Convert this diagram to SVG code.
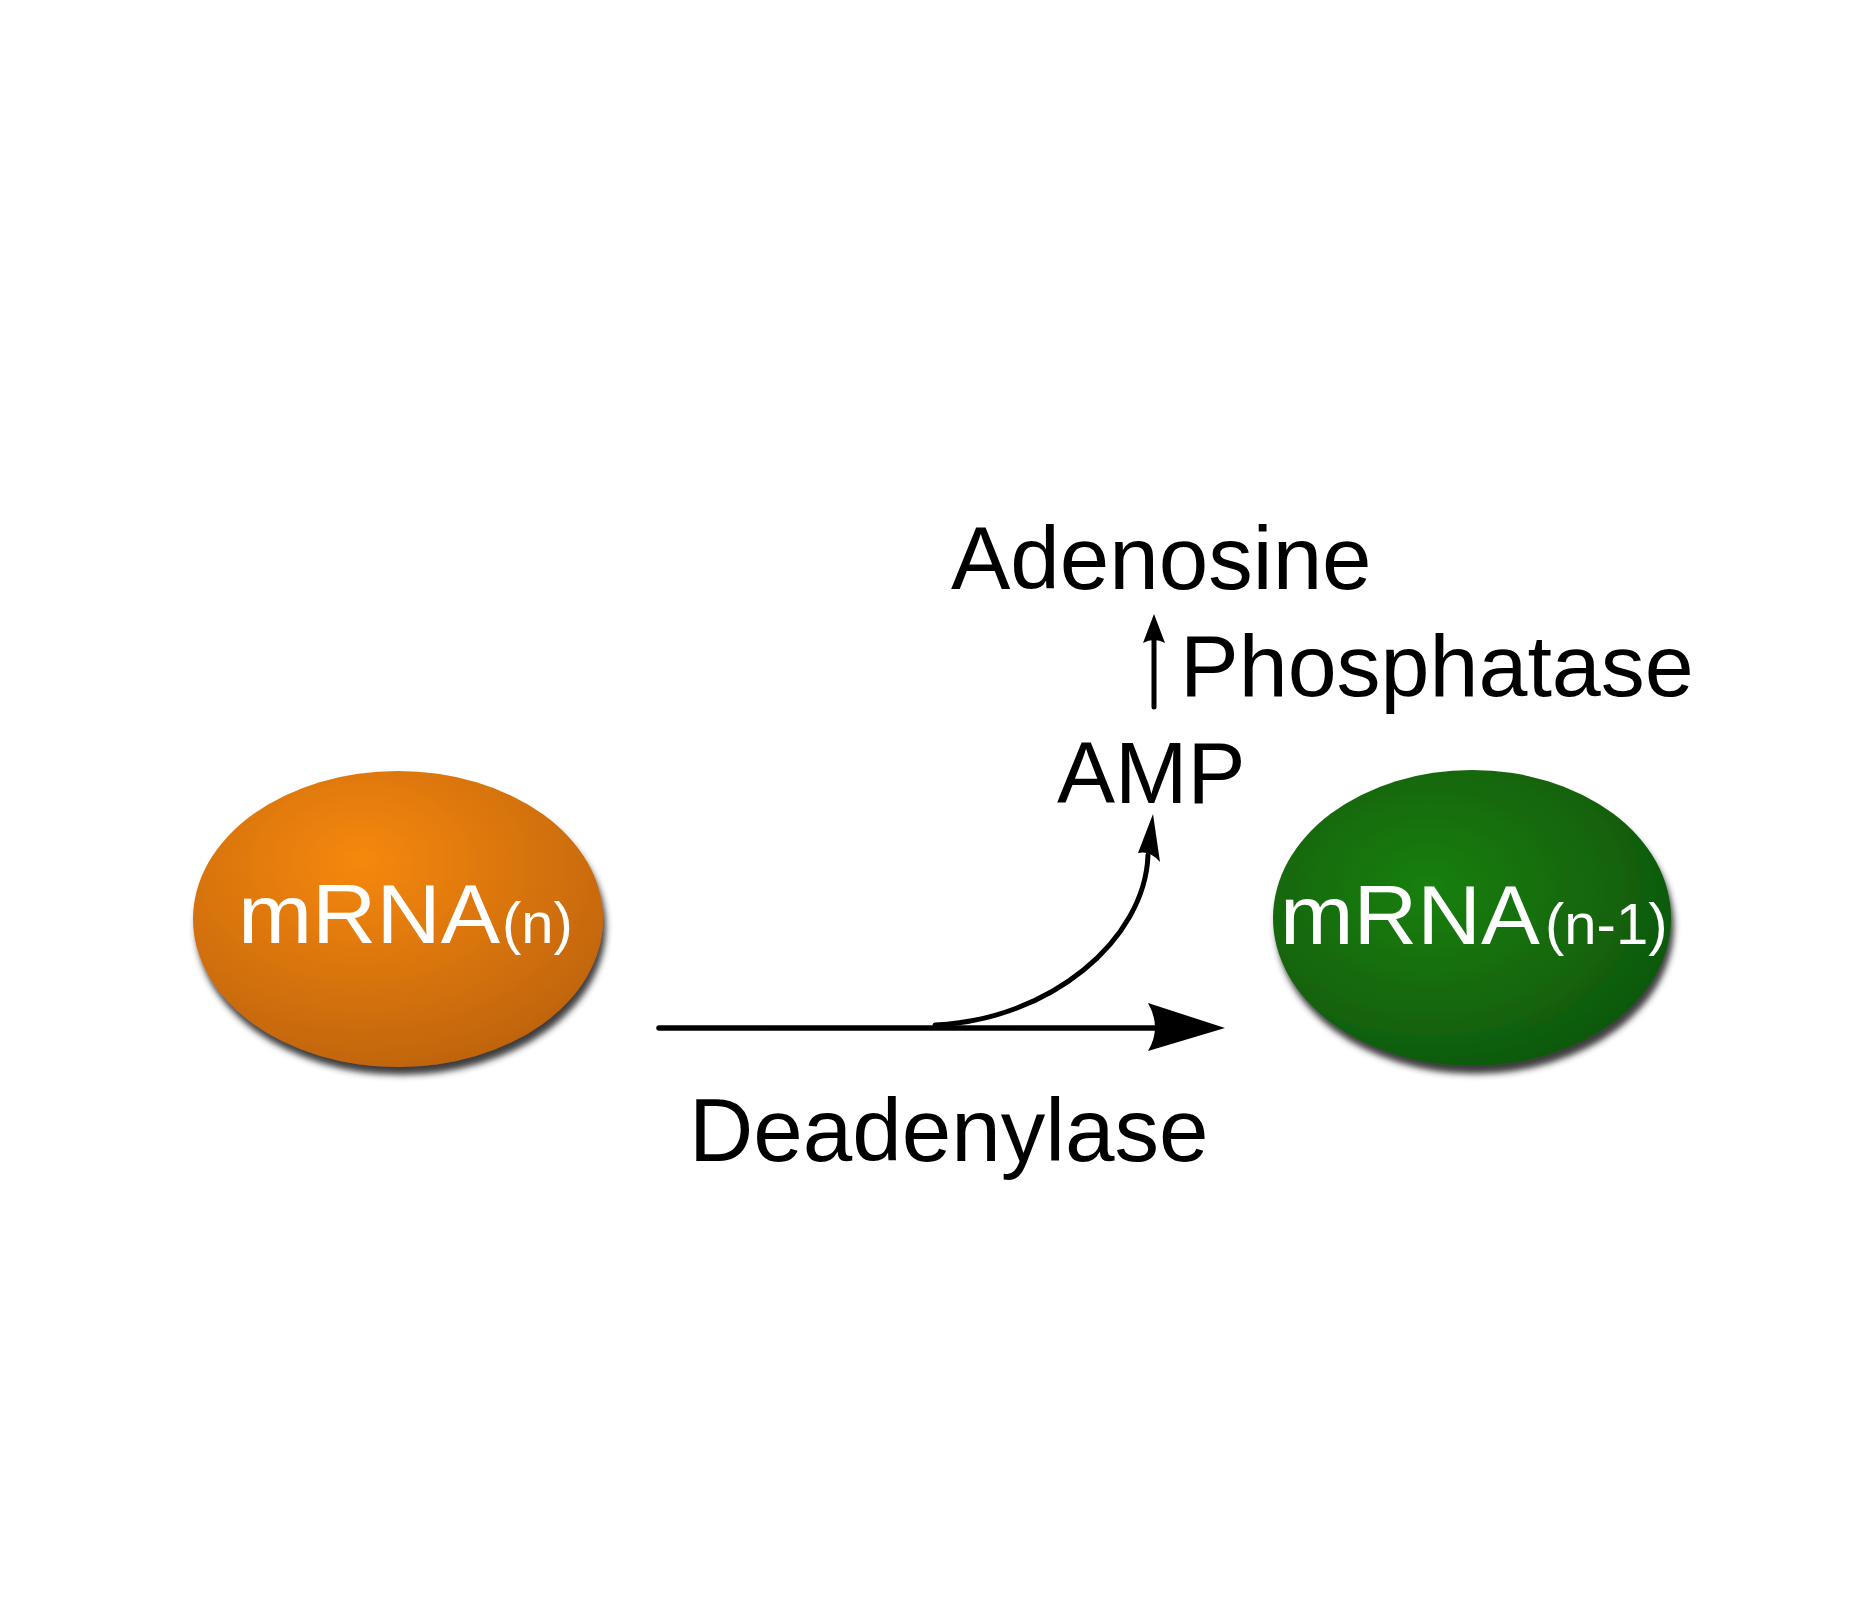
<svg xmlns="http://www.w3.org/2000/svg" width="1872" height="1620" viewBox="0 0 1872 1620">
<defs>
<radialGradient id="gOrange" cx="0.41" cy="0.32" r="0.85" fx="0.41" fy="0.3">
<stop offset="0" stop-color="#F6880A"/>
<stop offset="1" stop-color="#B55D06"/>
</radialGradient>
<radialGradient id="gGreen" cx="0.39" cy="0.4" r="0.85" fx="0.39" fy="0.4">
<stop offset="0" stop-color="#1A800B"/>
<stop offset="1" stop-color="#0C4C06"/>
</radialGradient>
<filter id="shadow" x="-10%" y="-10%" width="125%" height="130%">
<feGaussianBlur in="SourceAlpha" stdDeviation="3"/>
<feOffset dx="3" dy="8" result="b"/>
<feFlood flood-color="#2a2a2a" flood-opacity="0.9"/>
<feComposite in2="b" operator="in" result="s"/>
<feMerge><feMergeNode in="s"/><feMergeNode in="SourceGraphic"/></feMerge>
</filter>
<style>
.lbl{font-family:"Liberation Sans",Arial,Helvetica,sans-serif;fill:#000}
.node{font-family:"Liberation Sans",Arial,Helvetica,sans-serif;fill:#fff}
.ln{fill:none;stroke:#000;stroke-linecap:round}
.hd{fill:#000;stroke:none}
</style>
</defs>
<rect width="1872" height="1620" fill="#fff"/>
<g id="mrna-n">
<ellipse cx="398" cy="919" rx="205" ry="148" fill="url(#gOrange)" filter="url(#shadow)"/>
<text class="node" x="238" y="943" font-size="84" textLength="262" lengthAdjust="spacingAndGlyphs">mRNA</text>
<text class="node" x="502" y="943" font-size="58">(n)</text>
</g>
<g id="mrna-n-1">
<ellipse cx="1472" cy="918" rx="199" ry="148" fill="url(#gGreen)" filter="url(#shadow)"/>
<text class="node" x="1280" y="944" font-size="84" textLength="260" lengthAdjust="spacingAndGlyphs">mRNA</text>
<text class="node" x="1545" y="944" font-size="58">(n-1)</text>
</g>
<g id="connectors">
<line class="ln" x1="659" y1="1028" x2="1155" y2="1028" stroke-width="5.5"/>
<path class="hd" d="M1225 1028 L1148 1003 Q1162 1028 1148 1051 Z"/>
<path class="ln" d="M935 1025 C1050 1020 1145 940 1148 855" stroke-width="5"/>
<path class="hd" d="M1153 814 L1160 862 Q1150 850 1138 853 Z"/>
<line class="ln" x1="1154" y1="707" x2="1154" y2="636" stroke-width="5" stroke-linecap="butt"/>
<path class="hd" d="M1154 614 L1165 643 Q1154 637 1143 643 Z"/>
</g>
<g id="labels">
<text class="lbl" x="951" y="589" font-size="89">Adenosine</text>
<text class="lbl" x="1180" y="696" font-size="88">Phosphatase</text>
<text class="lbl" x="1057" y="803" font-size="87">AMP</text>
<text class="lbl" x="689" y="1161" font-size="89">Deadenylase</text>
</g>
</svg>
